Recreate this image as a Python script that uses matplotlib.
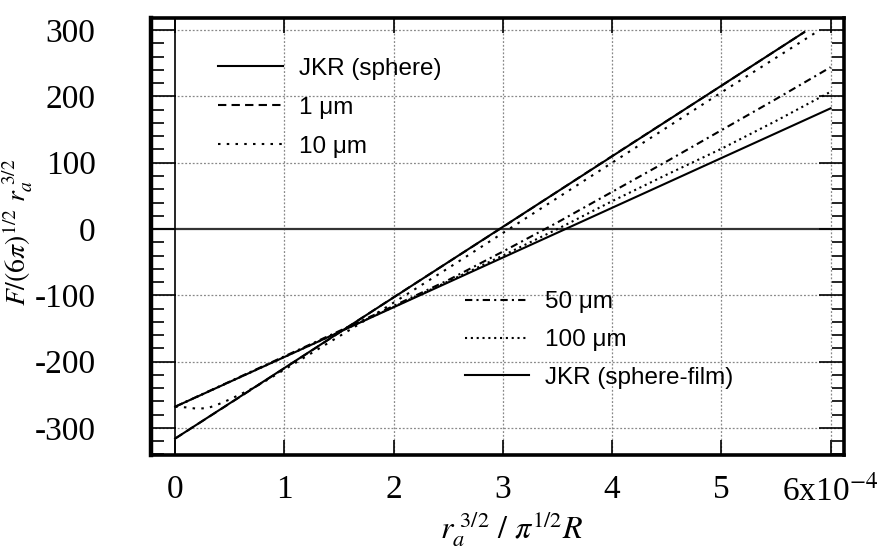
import matplotlib
matplotlib.use("Agg")
import matplotlib.pyplot as plt
from matplotlib.ticker import MultipleLocator, FixedLocator

# ---- data (x in units of 1e-4) ----
x_sphere = [0.0, 5.76]
y_sphere = [-316, 297]

x_film = [0.0, 6.0]
y_film = [-268, 182]

x_1um = [0.0, 1.0, 2.0, 3.0, 4.0, 5.0, 5.76]
y_1um = [-316, -210, -103, 3, 110, 216, 297]

x_10um = [0.0, 0.1, 0.2, 0.3, 0.4, 0.5, 0.6, 0.7, 0.85, 1.0, 1.3, 1.6, 2.0, 2.5, 3.0, 4.0, 5.0, 5.88]
y_10um = [-268, -269, -271, -270, -264, -257, -249, -241, -227, -212, -182, -152, -111, -59, -6, 100, 206, 298]

x_50um = [0.0, 0.5, 1.0, 1.5, 2.0, 2.5, 3.0, 3.5, 4.0, 4.5, 5.0, 5.5, 6.0]
y_50um = [-268, -230, -192, -154, -116, -77, -34, 10, 56, 102, 149, 196, 244]

x_100um = [0.0, 0.5, 1.0, 1.5, 2.0, 2.5, 3.0, 3.5, 4.0, 4.5, 5.0, 5.5, 6.0]
y_100um = [-268, -230.5, -193, -155.5, -117.5, -79, -40, 0, 42, 82, 121, 163, 207]

x_ticks = [0, 1, 2, 3, 4, 5, 6]
x_ticklabels = ['0', '1', '2', '3', '4', '5', '6x10$^{-4}$']
y_ticks = [-300, -200, -100, 0, 100, 200, 300]
y_ticklabels = ['-300', '-200', '-100', '0', '100', '200', '300']

labels_top = ['JKR (sphere)', '1 \u03bcm', '10 \u03bcm']
labels_bot = ['50 \u03bcm', '100 \u03bcm', 'JKR (sphere-film)']

plt.rcParams['mathtext.fontset'] = 'stix'

fig = plt.figure(figsize=(8.89, 5.51), dpi=100)
ax = fig.add_axes([0.170, 0.174, 0.779, 0.793])

ax.set_xlim(-0.22, 6.12)
ax.set_ylim(-341, 318)

lw = 1.5
h_sph, = ax.plot(x_sphere, y_sphere, color='black', lw=lw, ls='-')
h_1, = ax.plot(x_1um, y_1um, color='black', lw=lw, ls=(0, (4, 2.5)))
h_10, = ax.plot(x_10um, y_10um, color='black', lw=lw, ls=(0, (1.2, 3)))
h_50, = ax.plot(x_50um, y_50um, color='black', lw=lw, ls=(0, (3.5, 2, 1, 2)))
h_100, = ax.plot(x_100um, y_100um, color='black', lw=lw, ls=(0, (1, 1.8)))
h_film, = ax.plot(x_film, y_film, color='black', lw=lw, ls='-')

# grid and zero lines
for xv in x_ticks[1:]:
    ax.axvline(xv, color='#888888', lw=0.9, ls=(0, (1.5, 1.5)), zorder=0)
for yv in y_ticks:
    if yv != 0:
        ax.axhline(yv, color='#888888', lw=0.9, ls=(0, (1.5, 1.5)), zorder=0)
ax.axvline(0, color='black', lw=1.2, zorder=1)
ax.axhline(0, color='#333333', lw=1.6, zorder=1)

for s in ax.spines.values():
    s.set_linewidth(2.6)
ax.spines['left'].set_linewidth(3.2)

ax.xaxis.set_major_locator(FixedLocator(x_ticks))
ax.set_xticklabels(x_ticklabels)
ax.yaxis.set_major_locator(FixedLocator(y_ticks))
ax.set_yticklabels(y_ticklabels)
ax.yaxis.set_minor_locator(MultipleLocator(20))

ax.tick_params(axis='x', which='major', direction='in', length=11, width=1.2,
               top=True, bottom=True, pad=14)
ax.tick_params(axis='y', which='major', direction='in', length=18, width=1.2,
               left=True, right=True, pad=40)
ax.tick_params(axis='y', which='minor', direction='in', length=9, width=1.2,
               left=True, right=True)
for lab in ax.get_xticklabels() + ax.get_yticklabels():
    lab.set_fontfamily('Liberation Serif')
    lab.set_fontsize(24)

ax.set_ylabel(r'$\mathit{F/(6\pi)^{1/2}\ r_a^{\ 3/2}}$', fontsize=20)
ax.yaxis.set_label_coords(-0.168, 0.51)
ax.set_xlabel(r'$\mathit{r_a^{\ 3/2}\ /\ \pi^{1/2}R}$', fontsize=23)
ax.xaxis.set_label_coords(0.52, -0.125)

leg1 = ax.legend([h_sph, h_1, h_10], labels_top, loc='upper left',
                 bbox_to_anchor=(0.097, 0.91), frameon=False,
                 prop={'family': 'Liberation Sans', 'size': 17.5},
                 handlelength=2.65, handletextpad=0.65, labelspacing=0.7,
                 borderaxespad=0, borderpad=0)
ax.add_artist(leg1)
leg2 = ax.legend([h_50, h_100, h_film], labels_bot, loc='upper left',
                 bbox_to_anchor=(0.453, 0.375), frameon=False,
                 prop={'family': 'Liberation Sans', 'size': 17.5},
                 handlelength=2.65, handletextpad=0.65, labelspacing=0.65,
                 borderaxespad=0, borderpad=0)

fig.savefig('out.png', dpi=100, facecolor='white')
